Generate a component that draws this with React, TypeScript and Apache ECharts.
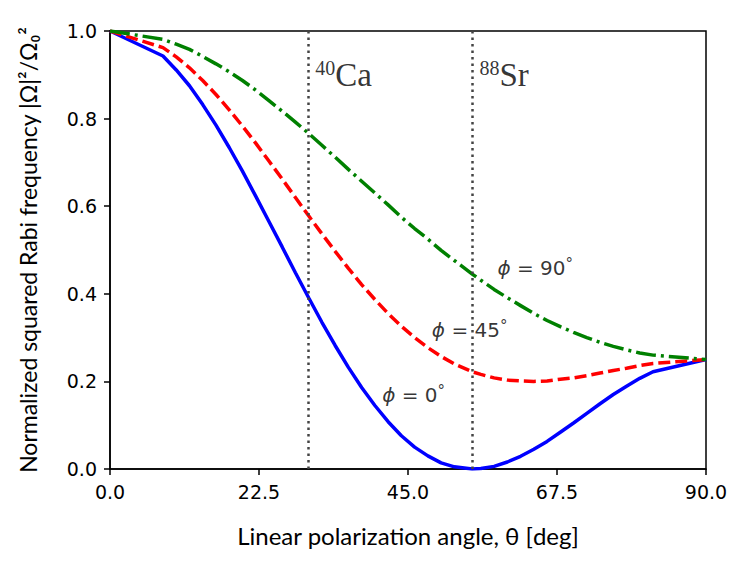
import React, { useEffect, useRef } from "react";
import * as echarts from "echarts";

// Polarization angle (deg)
const theta = [0, 8, 10, 12, 14, 16, 18, 20, 22, 24, 26, 28, 30, 32, 34, 36, 38, 40, 42, 44, 46, 48, 50, 52, 54.7, 56, 58, 60, 62, 64, 66, 68, 70, 72, 74, 76, 78, 80, 82, 90];
// phi = 0°
const phi0 = [1.0, 0.943, 0.911, 0.875, 0.832, 0.785, 0.734, 0.68, 0.623, 0.565, 0.507, 0.448, 0.391, 0.335, 0.282, 0.232, 0.186, 0.145, 0.108, 0.076, 0.05, 0.03, 0.014, 0.005, 0.0, 0.001, 0.006, 0.016, 0.029, 0.045, 0.063, 0.084, 0.105, 0.127, 0.149, 0.17, 0.189, 0.207, 0.222, 0.25];
// phi = 45°
const phi45 = [1.0, 0.962, 0.941, 0.916, 0.887, 0.855, 0.82, 0.783, 0.744, 0.703, 0.662, 0.62, 0.578, 0.537, 0.497, 0.458, 0.421, 0.387, 0.355, 0.326, 0.3, 0.277, 0.257, 0.24, 0.222, 0.216, 0.208, 0.203, 0.201, 0.2, 0.201, 0.205, 0.208, 0.213, 0.219, 0.225, 0.23, 0.236, 0.241, 0.25];
// phi = 90°
const phi90 = [1.0, 0.981, 0.97, 0.958, 0.942, 0.925, 0.907, 0.887, 0.865, 0.841, 0.817, 0.792, 0.766, 0.739, 0.712, 0.684, 0.657, 0.63, 0.603, 0.575, 0.549, 0.525, 0.499, 0.476, 0.445, 0.431, 0.41, 0.391, 0.373, 0.355, 0.339, 0.325, 0.312, 0.3, 0.289, 0.28, 0.272, 0.265, 0.26, 0.25];

// Vertical marker lines (isotopes)
const isotopeAngles = [30, 54.7];
const isotopeMass = ["40", "88"];
const isotopeName = ["Ca", "Sr"];
const isotopeLabelX = [31.0, 55.8];
const isotopeLabelY = [0.9, 0.9];

// Curve labels
const phiLabelText = ["90", "45", "0"];
const phiLabelX = [58.5, 48.6, 41.1];
const phiLabelY = [0.459, 0.317, 0.169];

const xTicks = { min: 0, max: 90, interval: 22.5 };
const yTicks = { min: 0, max: 1, interval: 0.2 };

export default function App() {
  const ref = useRef<HTMLDivElement>(null);
  useEffect(() => {
    document.body.style.margin = "0";
    const chart = echarts.init(ref.current!, null, { renderer: "svg" });
    const pair = (ys: number[]) => theta.map((t, i) => [t, ys[i]]);
    const tickFont = { fontFamily: "DejaVu Sans", fontSize: 19, color: "#000" };
    chart.setOption({
      animation: false,
      backgroundColor: "#fff",
      grid: { left: 110, right: 44, top: 31, bottom: 94, show: true, borderColor: "#000", borderWidth: 1.5, backgroundColor: "transparent" },
      xAxis: {
        type: "value",
        min: xTicks.min,
        max: xTicks.max,
        interval: xTicks.interval,
        splitLine: { show: false },
        axisLine: { show: true, lineStyle: { color: "#000", width: 1.5 } },
        axisTick: { show: true, length: 6, lineStyle: { color: "#000", width: 1.5 } },
        axisLabel: { ...tickFont, margin: 13, formatter: (v: number) => v.toFixed(1) },
        name: "Linear polarization angle, θ [deg]",
        nameLocation: "middle",
        nameGap: 54,
        nameTextStyle: { fontFamily: "Lato", fontSize: 24, color: "#000" },
      },
      yAxis: {
        type: "value",
        min: yTicks.min,
        max: yTicks.max,
        interval: yTicks.interval,
        splitLine: { show: false },
        axisLine: { show: true, lineStyle: { color: "#000", width: 1.5 } },
        axisTick: { show: true, length: 6, lineStyle: { color: "#000", width: 1.5 } },
        axisLabel: { ...tickFont, margin: 13, formatter: (v: number) => v.toFixed(1) },
        name: "Normalized squared Rabi frequency |Ω|²/Ω₀²",
        nameLocation: "middle",
        nameRotate: 90,
        nameGap: 71,
        nameTextStyle: { fontFamily: "Lato", fontSize: 23, color: "#000" },
      },
      series: [
        {
          type: "line",
          data: pair(phi0),
          symbol: "none",
          lineStyle: { color: "#0000ff", width: 3.5 },
          z: 3,
          markLine: {
            silent: true,
            symbol: "none",
            label: { show: false },
            lineStyle: { color: "#444", width: 2.5, type: [2.5, 4] },
            data: isotopeAngles.map((a) => ({ xAxis: a })),
          },
        },
        {
          type: "line",
          data: pair(phi45),
          symbol: "none",
          lineStyle: { color: "#ff0000", width: 3.5, type: [12, 5] },
          z: 3,
        },
        {
          type: "line",
          data: pair(phi90),
          symbol: "none",
          lineStyle: { color: "#008000", width: 3.5, type: [20, 5, 3, 5] },
          z: 3,
        },
        {
          type: "scatter",
          symbolSize: 0,
          silent: true,
          data: isotopeLabelX.map((x, i) => [x, isotopeLabelY[i], i]),
          label: {
            show: true,
            position: "right",
            distance: 0,
            formatter: (p: any) => `{sup|${isotopeMass[p.value[2]]}}{el|${isotopeName[p.value[2]]}}`,
            rich: {
              sup: { fontFamily: "Liberation Serif", fontSize: 20, color: "#000", verticalAlign: "top", lineHeight: 20, padding: [0, 0, 14, 0] },
              el: { fontFamily: "Liberation Serif", fontSize: 33, color: "#000", lineHeight: 34 },
            },
          },
        },
        {
          type: "scatter",
          symbolSize: 0,
          silent: true,
          data: phiLabelX.map((x, i) => [x, phiLabelY[i], i]),
          label: {
            show: true,
            position: "right",
            distance: 0,
            formatter: (p: any) => `{it|ϕ}{t| = ${phiLabelText[p.value[2]]}}{deg|°}`,
            rich: {
              it: { fontFamily: "DejaVu Sans", fontStyle: "italic", fontSize: 20, color: "#000" },
              t: { fontFamily: "DejaVu Sans", fontSize: 20, color: "#000" },
              deg: { fontFamily: "DejaVu Sans", fontSize: 15, color: "#000", verticalAlign: "top", padding: [0, 0, 8, 0] },
            },
          },
        },
      ],
    });
    return () => chart.dispose();
  }, []);
  return <div ref={ref} style={{ width: 750, height: 563 }} />;
}
